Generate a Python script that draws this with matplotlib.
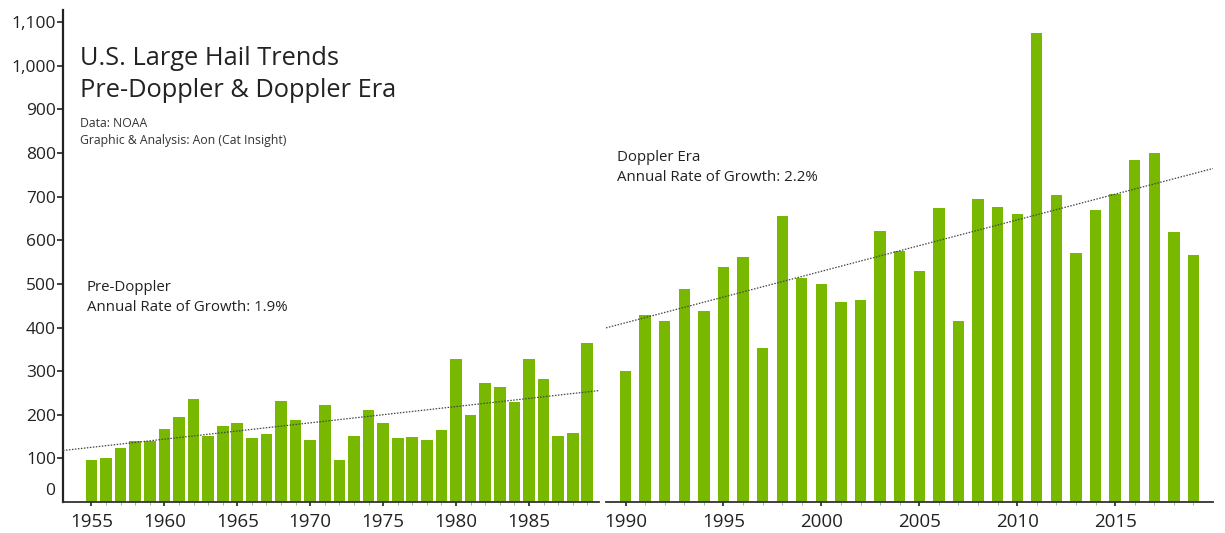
import matplotlib
matplotlib.use("Agg")
import matplotlib.pyplot as plt
import numpy as np

plt.rcParams['font.family'] = ['Open Sans', 'DejaVu Sans']

# ---- data ----
pre_years = list(range(1955, 1990))
pre_counts = [96, 102, 124, 141, 141, 168, 194, 237, 151, 175,
              180, 146, 155, 231, 187, 143, 222, 97, 151, 212,
              180, 146, 148, 143, 166, 327, 199, 273, 263, 229,
              327, 283, 151, 159, 365]
dop_years = list(range(1990, 2020))
dop_counts = [301, 428, 416, 488, 438, 539, 562, 354, 655, 513,
              500, 458, 463, 621, 576, 529, 675, 416, 694, 676,
              661, 1076, 703, 570, 669, 706, 784, 800, 620, 567]
pre_ticks = [1955, 1960, 1965, 1970, 1975, 1980, 1985]
dop_ticks = [1990, 1995, 2000, 2005, 2010, 2015]
y_ticks = [100, 200, 300, 400, 500, 600, 700, 800, 900, 1000, 1100]
y_labels = ['100', '200', '300', '400', '500', '600', '700', '800', '900', '1,000', '1,100']

W, H = 1225, 533
GREEN = '#78b800'
DARK = '#222222'

fig = plt.figure(figsize=(W / 100, H / 100), dpi=100)

def fx(px):
    return px / W

def fy(py):
    return 1 - py / H

ax_bot, ax_top = 502, 10
axL = fig.add_axes([fx(63), fy(ax_bot), fx(599) - fx(63), (ax_bot - ax_top) / H])
axR = fig.add_axes([fx(606), fy(ax_bot), fx(1213) - fx(606), (ax_bot - ax_top) / H])

YMAX = 1128

for ax, yrs, vals, width, xlim, ticks in [
        (axL, pre_years, pre_counts, 0.8, (1953.05, 1989.8), pre_ticks),
        (axR, dop_years, dop_counts, 0.58, (1989.0, 2020.0), dop_ticks)]:
    ax.bar(yrs, vals, width=width, color=GREEN, zorder=2)
    # linear trend line
    coef = np.polyfit(yrs, vals, 1)
    xs = np.array(xlim)
    ax.plot(xs, np.polyval(coef, xs), color='#444444', lw=0.9,
            linestyle=(0, (1.2, 1.2)), zorder=3)
    ax.set_xlim(*xlim)
    ax.set_ylim(0, YMAX)
    for s in ['top', 'right']:
        ax.spines[s].set_visible(False)
    ax.spines['bottom'].set_color('#333333')
    ax.spines['bottom'].set_linewidth(1.3)
    ax.set_xticks(ticks)
    ax.set_xticklabels([str(t) for t in ticks])
    ax.set_xticks(yrs, minor=True)
    ax.tick_params(axis='x', which='major', length=3, width=1.3, color='#333333',
                   labelsize=13.5, labelcolor=DARK, pad=5)
    ax.tick_params(axis='x', which='minor', length=2.5, width=0.7, color='#aaaaaa')
    ax.set_facecolor('none')

axL.spines['left'].set_color('#222222')
axL.spines['left'].set_linewidth(1.6)
axL.set_yticks(y_ticks)
axL.set_yticklabels(y_labels)
axL.tick_params(axis='y', length=4, width=1.2, color='#222222', labelsize=12.5,
                labelcolor=DARK, pad=1)
axL.annotate('0', xy=(0, 0), xycoords=('axes fraction', 'data'),
             xytext=(-6, 8), textcoords='offset points', ha='right', va='center',
             fontsize=12.5, color=DARK)

axR.spines['left'].set_visible(False)
axR.set_yticks([])

# ---- texts ----
fig.text(fx(80), fy(65), 'U.S. Large Hail Trends', fontsize=18.3, color=DARK, va='baseline')
fig.text(fx(80), fy(97), 'Pre-Doppler & Doppler Era', fontsize=18.3, color=DARK, va='baseline')
fig.text(fx(80), fy(127), 'Data: NOAA', fontsize=8.8, color='#333333', va='baseline')
fig.text(fx(80), fy(144), 'Graphic & Analysis: Aon (Cat Insight)', fontsize=8.8, color='#333333', va='baseline')

fig.text(fx(87), fy(291), 'Pre-Doppler', fontsize=10.8, color=DARK, va='baseline')
fig.text(fx(87), fy(311), 'Annual Rate of Growth: 1.9%', fontsize=10.8, color=DARK, va='baseline')
fig.text(fx(617), fy(161), 'Doppler Era', fontsize=10.8, color=DARK, va='baseline')
fig.text(fx(617), fy(181), 'Annual Rate of Growth: 2.2%', fontsize=10.8, color=DARK, va='baseline')

fig.savefig('out.png', dpi=100, facecolor='white')
